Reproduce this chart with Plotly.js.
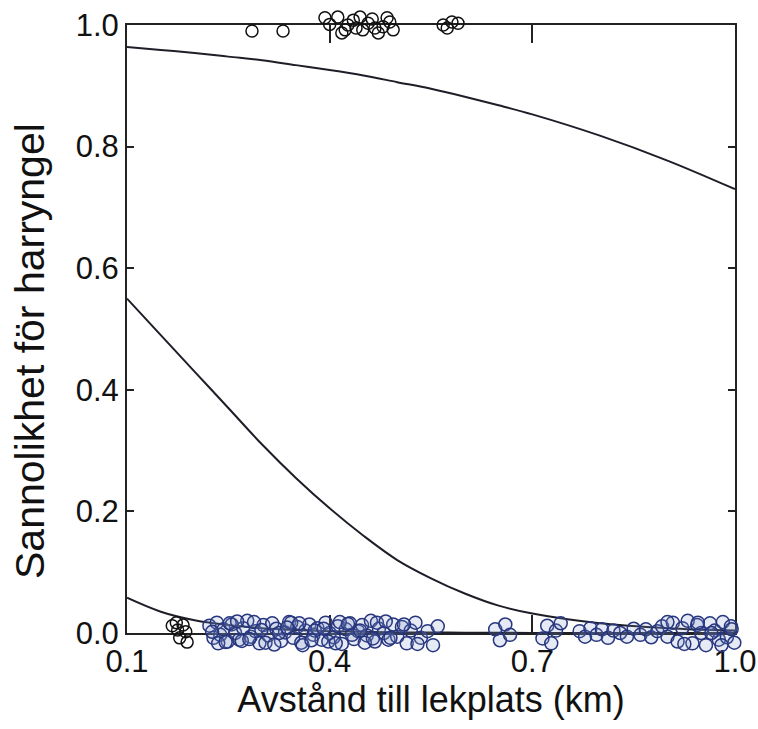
<!DOCTYPE html>
<html>
<head>
<meta charset="utf-8">
<script src="https://cdn.plot.ly/plotly-3.0.1.min.js"></script>
<style>html,body{margin:0;padding:0;background:#fff;}#chart{width:758px;height:729px;}</style>
</head>
<body>
<div id="chart"></div>
<script>
// Fitted curves
const curveX = [0.1, 0.15, 0.2, 0.25, 0.3, 0.35, 0.4, 0.45, 0.5, 0.55, 0.6, 0.65, 0.7, 0.8, 0.9, 1.0];
const curveHigh = [0.964, 0.959, 0.954, 0.948, 0.942, 0.934, 0.926, 0.917, 0.906, 0.895, 0.882, 0.868, 0.853, 0.818, 0.777, 0.730];
const curveMid = [0.55, 0.49, 0.43, 0.37, 0.31, 0.255, 0.205, 0.16, 0.12, 0.09, 0.065, 0.045, 0.032, 0.016, 0.008, 0.004];
const curveLow = [0.058, 0.035, 0.021, 0.013, 0.008, 0.005, 0.003, 0.002, 0.001, 0.0008, 0.0005, 0.0003, 0.0002, 0.0001, 0.0, 0.0];

// Observations with hare spawn (top, jittered around 1)
const presentX = [0.285, 0.331, 0.393, 0.400, 0.412, 0.418, 0.423, 0.427, 0.435, 0.439, 0.445, 0.449, 0.457, 0.463, 0.467, 0.472, 0.479, 0.485, 0.489, 0.494, 0.568, 0.574, 0.581, 0.590];
const presentY = [0.990, 0.990, 1.012, 1.001, 1.013, 0.987, 0.992, 1.0, 1.008, 0.995, 1.013, 0.992, 1.003, 1.010, 0.995, 0.987, 0.997, 1.012, 1.005, 0.992, 1.0, 0.995, 1.005, 1.003];

// Observations without (bottom, jittered around 0), black group
const absentBlackX = [0.167, 0.175, 0.183, 0.187, 0.178, 0.189, 0.173];
const absentBlackY = [0.012, 0.005, 0.013, 0.002, -0.008, -0.015, 0.017];

// Observations without (bottom, jittered around 0), blue group
const absentBlueX = [
  0.222,0.228,0.233,0.238,0.243,0.249,0.255,0.26,0.266,0.272,0.278,0.283,0.29,0.296,0.302,0.309,0.315,0.321,0.328,0.334,0.34,0.346,0.352,0.358,0.364,0.37,0.376,0.382,0.388,0.394,0.4,0.406,0.412,0.418,0.424,0.43,0.436,0.442,0.448,0.455,0.461,0.467,0.473,0.48,0.487,0.494,0.5,0.507,0.514,0.52,0.527,0.535,0.545,0.553,0.56,
  0.235,0.252,0.27,0.288,0.305,0.325,0.343,0.36,0.378,0.398,0.415,0.433,0.452,0.47,0.49,0.51,0.53,
  0.226,0.246,0.263,0.281,0.299,0.318,0.337,0.355,0.373,0.391,0.409,0.427,0.445,0.464,0.483,
  0.645,0.652,0.66,0.667,
  0.715,0.722,0.728,0.735,0.742,
  0.77,0.778,0.786,0.795,0.803,0.812,0.82,0.83,0.84,0.85,0.86,0.868,0.876,0.885,0.892,0.9,0.908,0.915,0.922,0.93,0.937,0.944,0.95,0.957,0.963,0.97,0.976,0.982,0.988,0.994,0.999,
  0.9,0.925,0.945,0.965,0.98,0.995
];
const absentBlueY = [
  0.012,-0.008,0.017,-0.003,0.006,-0.014,0.014,0.0,-0.011,0.008,0.02,-0.006,0.003,-0.017,0.013,-0.004,0.016,0.007,-0.013,0.001,0.018,-0.008,0.01,-0.016,0.004,0.014,-0.003,0.008,-0.011,0.017,0.0,-0.007,0.011,-0.018,0.006,0.016,-0.01,0.003,0.013,-0.004,0.02,-0.014,0.007,0.0,-0.011,0.014,-0.006,0.01,-0.017,0.004,0.017,-0.008,0.003,-0.02,0.011,
  -0.017,0.016,-0.013,0.018,-0.016,0.0,0.017,-0.02,0.004,-0.014,0.018,-0.003,-0.016,0.017,-0.008,0.014,-0.018,
  0.002,-0.015,0.019,-0.01,0.005,-0.019,0.009,0.016,-0.012,0.007,-0.017,0.015,0.004,-0.009,0.019,
  0.006,-0.012,0.014,-0.003,
  -0.009,0.012,-0.017,0.004,0.016,
  0.003,-0.006,0.008,-0.003,0.006,-0.008,0.004,0.0,-0.006,0.007,-0.003,0.006,-0.007,0.003,0.011,-0.006,0.017,-0.014,0.008,0.02,-0.017,0.013,0.0,-0.02,0.016,0.004,-0.011,0.018,-0.007,0.011,-0.016,
  0.018,-0.018,0.017,0.0,-0.02,0.006
];

const xTicks = [0.1, 0.4, 0.7, 1.0];
const xTickText = ['0.1', '0.4', '0.7', '1.0'];
const yTicks = [0, 0.2, 0.4, 0.6, 0.8, 1.0];
const yTickText = ['0.0', '0.2', '0.4', '0.6', '0.8', '1.0'];

// Geometry: plot box 608x608 px, from y=25 to y=633; outer area used for jittered points
const W = 758, H = 729;
const mT = 5, mB = 76;
const boxTop = 25, boxBottom = 633;
const areaH = H - mT - mB;                       // 648
const domLo = (H - mB - boxBottom) / areaH;      // box bottom in paper fraction
const domHi = (H - mB - boxTop) / areaH;         // box top in paper fraction
const boxH = boxBottom - boxTop;                 // px per 1.0 unit
const padLo = (H - mB - boxBottom) / boxH;
const padHi = (boxTop - mT) / boxH;

const lineStyle = {color: '#1e1e28', width: 2, shape: 'spline'};
const traces = [
  {x: curveX, y: curveHigh, mode: 'lines', line: lineStyle, hoverinfo: 'skip'},
  {x: curveX, y: curveMid, mode: 'lines', line: lineStyle, hoverinfo: 'skip'},
  {x: curveX, y: curveLow, mode: 'lines', line: lineStyle, hoverinfo: 'skip'},
  {x: absentBlueX, y: absentBlueY, yaxis: 'y2', mode: 'markers', cliponaxis: false,
   marker: {symbol: 'circle', size: 13, color: 'rgba(130,150,200,0.2)', line: {color: '#27367f', width: 1.5}}},
  {x: absentBlackX, y: absentBlackY, yaxis: 'y2', mode: 'markers', cliponaxis: false,
   marker: {symbol: 'circle', size: 12, color: 'rgba(255,255,255,0)', line: {color: '#111', width: 1.5}}},
  {x: presentX, y: presentY, yaxis: 'y2', mode: 'markers', cliponaxis: false,
   marker: {symbol: 'circle', size: 12, color: 'rgba(255,255,255,0)', line: {color: '#111', width: 1.5}}}
];

const fontFam = '"Liberation Sans", Arial, sans-serif';
const layout = {
  width: W, height: H,
  margin: {l: 127, r: 23, t: mT, b: mB},
  paper_bgcolor: '#fff', plot_bgcolor: 'rgba(0,0,0,0)',
  showlegend: false,
  font: {family: fontFam, color: '#111'},
  xaxis: {
    range: [0.1, 1.0], tickvals: xTicks, ticktext: xTickText, anchor: 'y',
    showgrid: false, zeroline: false,
    showline: true, linecolor: '#222', linewidth: 2, mirror: 'ticks',
    ticks: 'inside', ticklen: 18, tickwidth: 2, tickcolor: '#222',
    tickfont: {size: 31, family: fontFam, color: '#111'},
    title: {text: 'Avstånd till lekplats (km)', font: {size: 36, family: fontFam, color: '#111'}, standoff: 4}
  },
  yaxis: {
    domain: [domLo, domHi],
    range: [0, 1], tickvals: yTicks, ticktext: yTickText,
    showgrid: false, zeroline: false,
    showline: true, linecolor: '#222', linewidth: 2, mirror: 'ticks',
    ticks: 'inside', ticklen: 7, tickwidth: 2, tickcolor: '#222',
    tickfont: {size: 31, family: fontFam, color: '#111'}
  },
  yaxis2: {
    domain: [0, 1], anchor: 'x',
    range: [-padLo, 1 + padHi],
    showgrid: false, zeroline: false, showline: false, showticklabels: false, ticks: ''
  },
  annotations: [{
    text: 'Sannolikhet för harryngel', textangle: -90,
    xref: 'paper', yref: 'paper',
    x: (30 - 127) / 608, y: (H - mB - 351) / areaH,
    xanchor: 'center', yanchor: 'middle', showarrow: false,
    font: {size: 41, family: fontFam, color: '#111'}
  }]
};

Plotly.newPlot('chart', traces, layout, {displayModeBar: false, staticPlot: true});
</script>
</body>
</html>
